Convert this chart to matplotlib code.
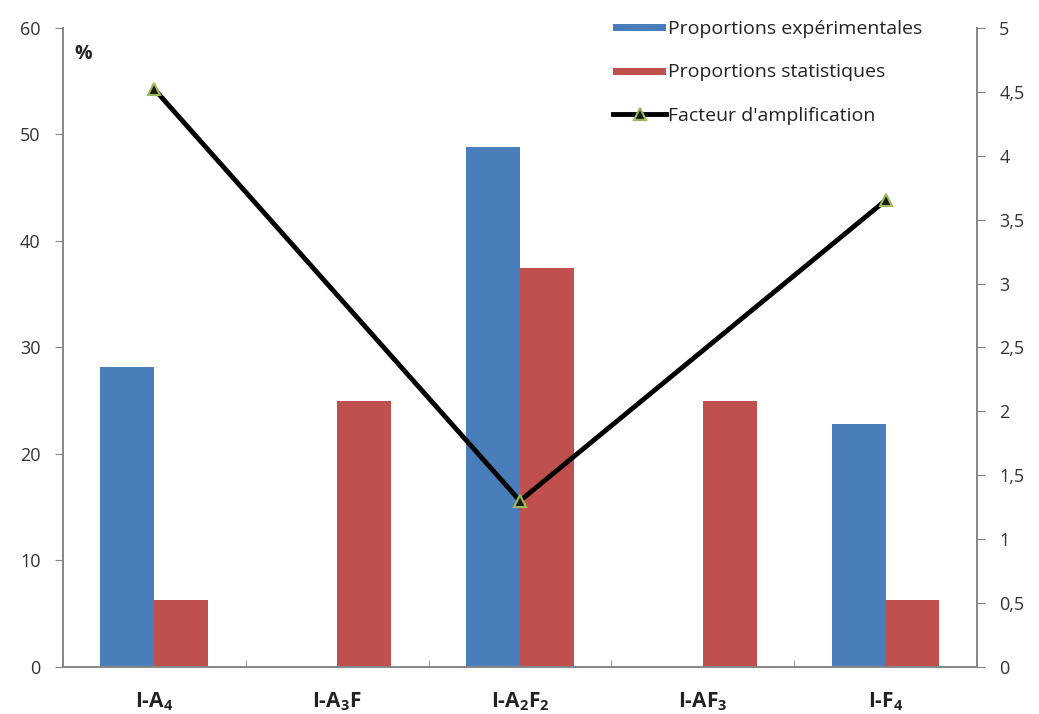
import matplotlib
matplotlib.use("Agg")
import matplotlib.pyplot as plt
import numpy as np

categories = ["I-A$_{\\mathbf{4}}$", "I-A$_{\\mathbf{3}}$F", "I-A$_{\\mathbf{2}}$F$_{\\mathbf{2}}$",
              "I-AF$_{\\mathbf{3}}$", "I-F$_{\\mathbf{4}}$"]
prop_exp = [28.2, 0, 48.8, 0, 22.8]
prop_stat = [6.25, 25, 37.5, 25, 6.25]
amp_idx = [0, 2, 4]
amp_values = [4.52, 1.30, 3.65]

BLUE = "#4a7ebb"
RED = "#c0504d"
GRAY = "#868686"
TXT = "#333333"

plt.rcParams["font.family"] = ["Open Sans", "DejaVu Sans"]
plt.rcParams["mathtext.fontset"] = "custom"
plt.rcParams["mathtext.bf"] = "Open Sans:bold"

fig = plt.figure(figsize=(10.39, 7.14), dpi=100)
ax = fig.add_axes([0.0606, 0.0658, 0.8797, 0.8952])
ax2 = ax.twinx()

x = np.arange(len(categories))
w = 0.295
b1 = ax.bar(x - w / 2, prop_exp, w, color=BLUE, label="Proportions expérimentales")
b2 = ax.bar(x + w / 2, prop_stat, w, color=RED, label="Proportions statistiques")

ln, = ax2.plot(amp_idx, amp_values, color="black", lw=3.5, marker="^", ms=9,
               markerfacecolor="#1a1a1a", markeredgecolor="#9bbb59", markeredgewidth=1.5,
               label="Facteur d'amplification")

ax.set_xlim(-0.5, len(categories) - 0.5)
ax.set_ylim(0, 60)
ax.set_yticks(range(0, 61, 10))
ax2.set_ylim(0, 5)
ax2.set_yticks(np.arange(0, 5.01, 0.5))
ax2.set_yticklabels([("%g" % v).replace(".", ",") for v in np.arange(0, 5.01, 0.5)])

ax.set_xticks(x)
ax.set_xticklabels(categories, fontweight="bold", fontsize=15, color="#222222")
ax.set_xticks(np.arange(-0.5, len(categories), 1), minor=True)
ax.tick_params(axis="x", which="major", length=0, pad=17)
ax.tick_params(axis="x", which="minor", length=5, color=GRAY, direction="in")
ax.tick_params(axis="y", length=6, color=GRAY, labelsize=13, labelcolor=TXT, pad=10)
ax2.tick_params(axis="y", length=6, color=GRAY, labelsize=13, labelcolor=TXT, pad=10)

for a in (ax, ax2):
    a.spines["top"].set_visible(False)
    for s in ("left", "right", "bottom"):
        a.spines[s].set_color(GRAY)
        a.spines[s].set_linewidth(1.2)

ax.text(0.012, 0.975, "%", transform=ax.transAxes, fontsize=14, fontweight="bold",
        va="top", ha="left", color="#222222")

leg = ax2.legend(handles=[b1, b2, ln], loc="upper left", bbox_to_anchor=(0.583, 1.04),
                 frameon=False, fontsize=14, labelspacing=1.32, handlelength=2.7,
                 handletextpad=0.1)
for t in leg.get_texts():
    t.set_color("#222222")
for p in leg.legend_handles[:2]:
    p.set_height(5)
    p.set_y(2)

fig.savefig("out.png", dpi=100)
